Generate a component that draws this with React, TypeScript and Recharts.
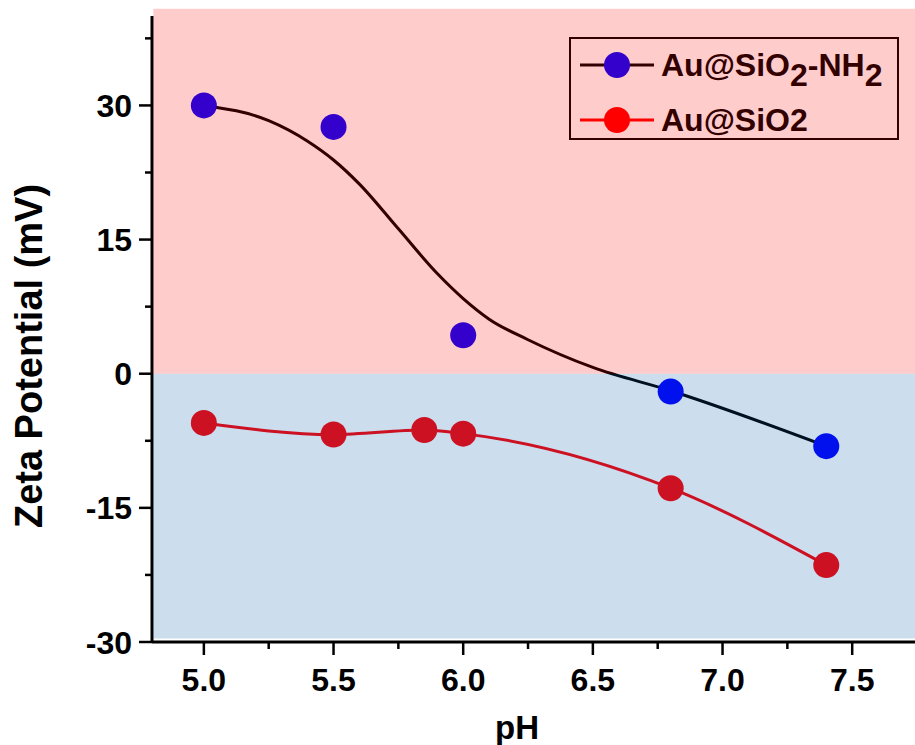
import React from "react";
import { LineChart, Line, XAxis, YAxis, ReferenceArea } from "recharts";

// fitted curve for Au@SiO2-NH2
const fitPH = [5.0, 5.25, 5.4, 5.5, 5.6, 5.75, 5.9, 6.0, 6.1, 6.25, 6.5, 6.8, 7.4];
const fitZeta = [30, 28.3, 26.0, 23.9, 21.2, 16.2, 11.2, 8.4, 6.1, 3.8, 0.7, -1.9, -8.1];

// measured points
const nh2PH = [5.0, 5.5, 6.0, 6.8, 7.4];
const nh2Zeta = [30, 27.6, 4.3, -2.0, -8.1];
const sio2PH = [5.0, 5.5, 5.85, 6.0, 6.8, 7.4];
const sio2Zeta = [-5.5, -6.8, -6.3, -6.7, -12.8, -21.4];

const xMajor = [5.0, 5.5, 6.0, 6.5, 7.0, 7.5];
const xMinor = [5.25, 5.75, 6.25, 6.75, 7.25, 7.75];
const yMajor = [-30, -15, 0, 15, 30];
const yMinor = [-22.5, -7.5, 7.5, 22.5, 37.5];

const FONT = "'Liberation Sans', Arial, sans-serif";

const rows = (xs: number[], ys: number[]) => xs.map((x, i) => ({ ph: x, zeta: ys[i] }));

function XTick({ x, y, payload }: any) {
  const major = xMajor.includes(payload.value);
  return (
    <g>
      <line x1={x} x2={x} y1={y} y2={y + (major ? 13 : 7)} stroke="#000" strokeWidth={2.5} />
      {major && (
        <text x={x} y={y + 49} textAnchor="middle" fontSize={32} fontWeight="bold" fontFamily={FONT} fill="#000">
          {payload.value.toFixed(1)}
        </text>
      )}
    </g>
  );
}

function YTick({ x, y, payload }: any) {
  const major = yMajor.includes(payload.value);
  return (
    <g>
      <line x1={x} x2={x - (major ? 13 : 7)} y1={y} y2={y} stroke="#000" strokeWidth={2.5} />
      {major && (
        <text x={x - 20} y={y} dy="0.36em" textAnchor="end" fontSize={32} fontWeight="bold" fontFamily={FONT} fill="#000">
          {payload.value}
        </text>
      )}
    </g>
  );
}

function YTitle({ viewBox }: any) {
  const cx = viewBox.x + 42;
  const cy = viewBox.y + viewBox.height / 2 + 27;
  return (
    <text x={cx} y={cy} transform={`rotate(-90, ${cx}, ${cy})`} textAnchor="middle"
      fontSize={38} fontWeight="bold" fontFamily={FONT} fill="#000">
      Zeta Potential (mV)
    </text>
  );
}

function XTitle({ viewBox }: any) {
  const cx = viewBox.x + viewBox.width / 2 - 24;
  return (
    <text x={cx} y={viewBox.y + 97} textAnchor="middle" fontSize={33} fontWeight="bold" fontFamily={FONT} fill="#000">
      pH
    </text>
  );
}

const legendItems = [
  { name: ["Au@SiO", "2", "-NH", "2"], line: "#330000", dot: "#3300cc" },
  { name: ["Au@SiO2"], line: "#ff0000", dot: "#ff0000" },
];

function LegendBox() {
  return (
    <div style={{
      position: "absolute", left: 569, top: 37, width: 330, height: 103,
      border: "2px solid #330000", boxSizing: "border-box", fontFamily: FONT,
    }}>
      {legendItems.map((it, i) => (
        <div key={i} style={{ position: "absolute", left: 9, top: 8 + i * 55, height: 36, display: "flex", alignItems: "center" }}>
          <svg width={74} height={30}>
            <line x1={0} x2={74} y1={15} y2={15} stroke={it.line} strokeWidth={3} />
            <circle cx={37} cy={15} r={13} fill={it.dot} />
          </svg>
          <span style={{ marginLeft: 7, fontSize: 32, fontWeight: "bold", color: "#330000", whiteSpace: "nowrap" }}>
            {it.name.map((s, j) =>
              j % 2 === 1 ? <span key={j} style={{ position: "relative", top: 10 }}>{s}</span> : <span key={j}>{s}</span>
            )}
          </span>
        </div>
      ))}
    </div>
  );
}

export default function App() {
  return (
    <div style={{ position: "absolute", left: 0, top: 0, width: 915, height: 745, overflow: "hidden", background: "#fff" }}>
      <LineChart width={940} height={745} margin={{ top: 16, right: 10, bottom: 0, left: 0 }}>
        <XAxis
          dataKey="ph" type="number" domain={[4.8, 7.8]} allowDataOverflow
          ticks={[...xMajor, ...xMinor].sort((a, b) => a - b)} interval={0}
          tickSize={0} tickMargin={0} tickLine={false} tick={<XTick />}
          axisLine={{ stroke: "#000", strokeWidth: 3 }} height={103}
          label={<XTitle />}
        />
        <XAxis xAxisId="top" orientation="top" type="number" domain={[4.8, 7.8]} height={0}
          tick={false} tickLine={false} axisLine={{ stroke: "#000", strokeWidth: 3 }} />
        <YAxis
          type="number" domain={[-30, 40]} allowDataOverflow
          ticks={[...yMajor, ...yMinor].sort((a, b) => a - b)} interval={0}
          tickSize={0} tickMargin={0} tickLine={false} tick={<YTick />}
          axisLine={{ stroke: "#000", strokeWidth: 3 }} width={152}
          label={<YTitle />}
        />
        <Line data={rows(fitPH, fitZeta)} dataKey="zeta" type="monotone" stroke="#000" strokeWidth={3}
          dot={false} activeDot={false} isAnimationActive={false} />
        <Line data={rows(sio2PH, sio2Zeta)} dataKey="zeta" type="monotone" stroke="#ff0000" strokeWidth={3}
          dot={{ r: 13, fill: "#ff0000", stroke: "none" }} activeDot={false} isAnimationActive={false} />
        <Line data={rows(nh2PH, nh2Zeta)} dataKey="zeta" stroke="none" strokeWidth={0}
          dot={{ r: 13, fill: "#0000ff", stroke: "none" }} activeDot={false} isAnimationActive={false} />
        <ReferenceArea x1={4.805} x2={7.8} y1={0} y2={40.8} fill="#ff0000" fillOpacity={0.2}
          stroke="none" ifOverflow="visible" zIndex={1500} />
        <ReferenceArea x1={4.805} x2={7.8} y1={-29.6} y2={0} fill="#0055aa" fillOpacity={0.2}
          stroke="none" ifOverflow="visible" zIndex={1500} />
      </LineChart>
      <LegendBox />
    </div>
  );
}
